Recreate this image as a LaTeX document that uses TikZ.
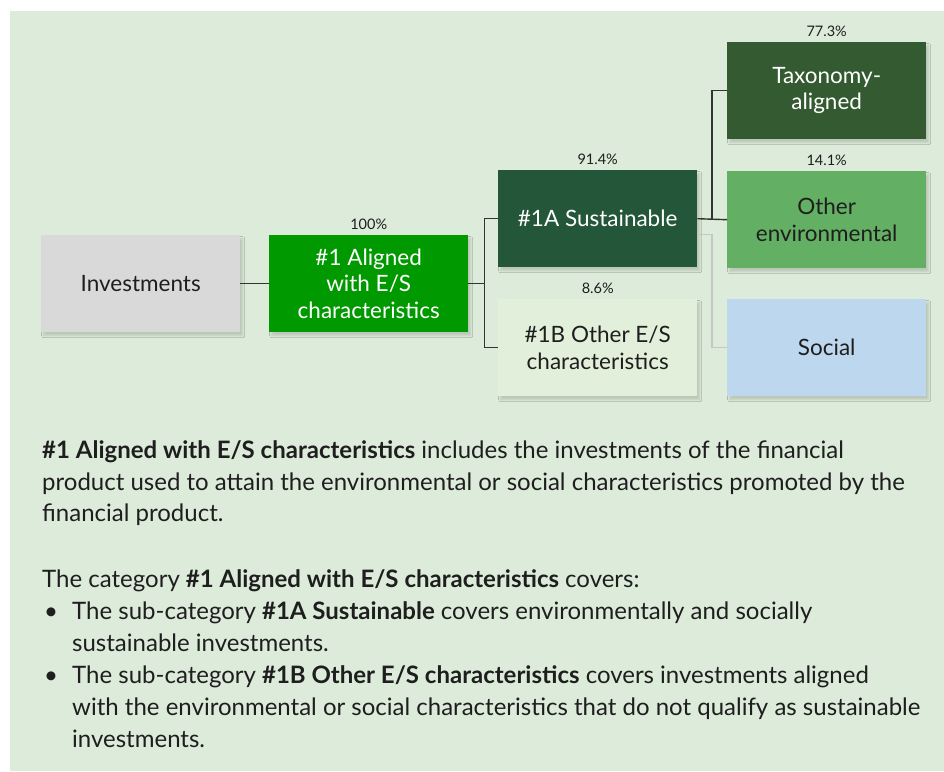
\documentclass[tikz,border=0pt]{standalone}
\usepackage{fontspec}
\setmainfont{Lato}
\usetikzlibrary{shadows.blur}
\definecolor{bgc}{HTML}{DDECDA}
\definecolor{invc}{HTML}{D9D9D9}
\definecolor{alc}{HTML}{009900}
\definecolor{susc}{HTML}{245639}
\definecolor{othc}{HTML}{E2EFDA}
\definecolor{taxc}{HTML}{335A31}
\definecolor{envc}{HTML}{63AF63}
\definecolor{socc}{HTML}{BDD7EE}
\definecolor{txtc}{HTML}{1E1E1E}
\definecolor{linec}{HTML}{333333}
\definecolor{glinec}{HTML}{C4C8C4}
\tikzset{
  box/.style={draw=none, anchor=north west, minimum width=199pt, minimum height=97pt,
    inner sep=0pt, align=center, font=\fontsize{22.5}{26.5}\selectfont, text=txtc,
    blur shadow={shadow xshift=2.5pt, shadow yshift=-3.5pt, shadow blur steps=6, shadow blur radius=2pt, shadow opacity=15}},
  pct/.style={anchor=center, font=\fontsize{14.5}{16}\selectfont, text=txtc, inner sep=0pt},
  conn/.style={draw=linec, line width=1.4pt},
  gconn/.style={draw=glinec, line width=1.4pt},
  body/.style={anchor=base west, inner sep=0pt, text=txtc, font=\fontsize{24}{31.8}\selectfont}
}
\begin{document}
\begin{tikzpicture}[x=1pt,y=-1pt]
\useasboundingbox (0,0) rectangle (944,771);
\fill[bgc] (10,11) rectangle (944,771);

\node[box, fill=invc] (inv) at (41,235) {Investments};
\node[box, fill=alc, text=white] (al) at (269,235) {\#1 Aligned\\with E/S\\characteristics};
\node[box, fill=susc, text=white] (sus) at (498,170) {\#1A Sustainable};
\node[box, fill=othc] (oth) at (498,299) {\#1B Other E/S\\characteristics};
\node[box, fill=taxc, text=white] (tax) at (727,42) {Taxonomy-\\aligned};
\node[box, fill=envc, text=txtc] (env) at (727,171) {Other\\environmental};
\node[box, fill=socc] (soc) at (727,299) {Social};

\node[pct] (p100) at ([yshift=11pt]al.north) {100\%};
\node[pct] (p914) at ([yshift=11pt]sus.north) {91.4\%};
\node[pct] (p86) at ([yshift=11pt]oth.north) {8.6\%};
\node[pct] (p773) at ([yshift=11pt]tax.north) {77.3\%};
\node[pct] (p141) at ([yshift=11pt]env.north) {14.1\%};

\draw[conn] (inv.east) -- (al.west);
\draw[conn] (al.east) -- ++(16,0) coordinate (j1);
\draw[conn] (sus.west) -| (j1) |- (oth.west);
\draw[gconn] ([yshift=-16pt]sus.east) -| ([xshift=-15pt]soc.west) -- (soc.west);
\draw[conn] (sus.east) -- (env.west);
\draw[conn] ([xshift=-15pt]env.west) |- (tax.west);

\node[body] (t1a) at (42,458) {\textbf{\#1 Aligned with E/S characteristics} includes the investments of the financial};
\node[body] (t1b) at (42,490) {product used to attain the environmental or social characteristics promoted by the};
\node[body] (t1c) at (42,521.5) {financial product.};
\node[body] (t2) at (42,587) {The category \textbf{\#1 Aligned with E/S characteristics} covers:};
\node[body] (b1) at (44,619) {•};
\node[body] (t3a) at (72,619) {The sub-category \textbf{\#1A Sustainable} covers environmentally and socially};
\node[body] (t3b) at (72,651) {sustainable investments.};
\node[body] (b2) at (44,683) {•};
\node[body] (t4a) at (72,683) {The sub-category \textbf{\#1B Other E/S characteristics} covers investments aligned};
\node[body] (t4b) at (72,715) {with the environmental or social characteristics that do not qualify as sustainable};
\node[body] (t4c) at (72,747) {investments.};
\end{tikzpicture}
\end{document}
